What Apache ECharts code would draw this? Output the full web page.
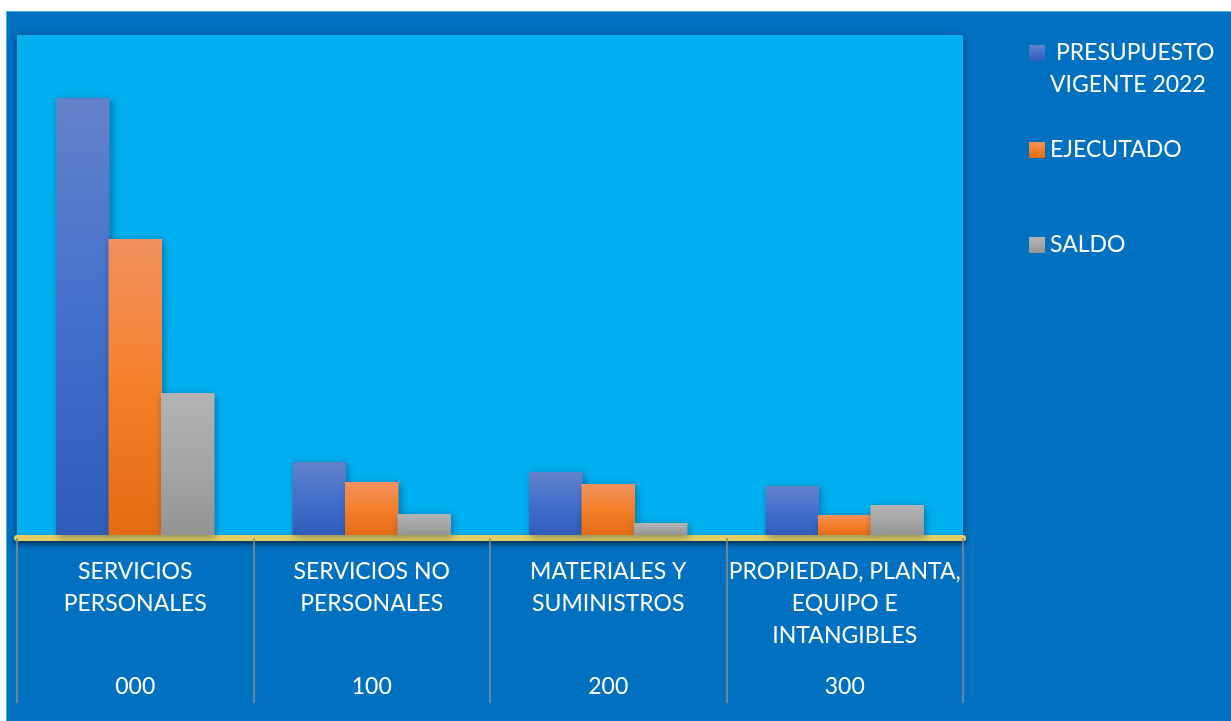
<!DOCTYPE html>
<html>
<head>
<meta charset="utf-8">
<script src="https://cdn.jsdelivr.net/npm/echarts@6/dist/echarts.min.js"></script>
<style>
  html, body { margin: 0; padding: 0; background: #ffffff; width: 1231px; height: 721px; overflow: hidden; }
  #frame { position: absolute; left: 6px; top: 11px; width: 1224px; height: 710px; background: #0070C0;
           border-top: 1px solid #4db3ee; border-left: 1px solid #4db3ee; border-right: 1px solid #4db3ee; }
  #chart { position: absolute; left: 0; top: 0; width: 1231px; height: 721px; }
</style>
</head>
<body>
<div id="frame"></div>
<div id="chart"></div>
<script>
// Category names (multi-line as in the original) and their codes
const categories = ['SERVICIOS\nPERSONALES', 'SERVICIOS NO\nPERSONALES', 'MATERIALES Y\nSUMINISTROS', 'PROPIEDAD, PLANTA,\nEQUIPO E\nINTANGIBLES'];
const codes = ['000', '100', '200', '300'];
const seriesNames = ['PRESUPUESTO VIGENTE 2022', 'EJECUTADO', 'SALDO'];
// Values (no value axis in the original; relative units)
const presupuesto = [437, 73, 63, 49];
const ejecutado = [296, 53, 51, 20];
const saldo = [142, 21, 12, 30];

const FONT = 'Lato';
const FS = 23;

function grad(top, mid, bottom) {
  return new echarts.graphic.LinearGradient(0, 0, 0, 1, [
    { offset: 0, color: top }, { offset: 0.5, color: mid }, { offset: 1, color: bottom }
  ]);
}
const colBlue = grad('#6482C9', '#4470CC', '#2E5DB9');
const colOrange = grad('#F09160', '#F5802A', '#E36B14');
const colGray = grad('#B3B3B3', '#A6A6A6', '#939393');

const barShadow = { shadowBlur: 8, shadowColor: 'rgba(0,40,80,0.45)', shadowOffsetX: 2, shadowOffsetY: 2 };

const chart = echarts.init(document.getElementById('chart'), null, { renderer: 'canvas' });
const option = {
  backgroundColor: 'transparent',
  animation: false,
  textStyle: { fontFamily: FONT },
  grid: {
    left: 17, top: 35, width: 946, bottom: 186,
    show: true, backgroundColor: '#00B0F0', borderWidth: 0,
    shadowBlur: 8, shadowColor: 'rgba(0,0,0,0.45)', shadowOffsetX: 0, shadowOffsetY: 2
  },
  legend: [
    {
      data: [seriesNames[0]], orient: 'vertical', left: 1029, top: 5, padding: 0,
      itemWidth: 16, itemHeight: 16, itemGap: 0, icon: 'rect',
      formatter: function () { return ' \n PRESUPUESTO\nVIGENTE 2022'; },
      textStyle: { color: '#ffffff', fontFamily: FONT, fontSize: FS, lineHeight: 32 },
      itemStyle: { shadowBlur: 0 }
    },
    {
      data: [seriesNames[1]], orient: 'vertical', left: 1029, top: 134, padding: 0,
      itemWidth: 16, itemHeight: 16, icon: 'rect',
      textStyle: { color: '#ffffff', fontFamily: FONT, fontSize: FS, lineHeight: 32 },
      itemStyle: { shadowBlur: 0 }
    },
    {
      data: [seriesNames[2]], orient: 'vertical', left: 1029, top: 229, padding: 0,
      itemWidth: 16, itemHeight: 16, icon: 'rect',
      textStyle: { color: '#ffffff', fontFamily: FONT, fontSize: FS, lineHeight: 32 },
      itemStyle: { shadowBlur: 0 }
    }
  ],
  xAxis: [
    {
      type: 'category', data: categories, position: 'bottom', offset: 3,
      axisLine: { show: true, onZero: false, lineStyle: { color: '#E6CF62', width: 6, shadowBlur: 5, shadowColor: 'rgba(0,0,0,0.55)', shadowOffsetY: 3 } },
      axisTick: { show: true, interval: 0, length: 165, lineStyle: { color: '#8C8C8C', width: 1.5 } },
      axisLabel: { interval: 0, color: '#ffffff', fontFamily: FONT, fontSize: FS, lineHeight: 32, margin: 18 },
      splitLine: { show: false }
    },
    {
      type: 'category', data: codes, position: 'bottom', offset: 3,
      axisLine: { show: false }, axisTick: { show: false },
      axisLabel: { interval: 0, color: '#ffffff', fontFamily: FONT, fontSize: FS, lineHeight: 32, margin: 133 },
      splitLine: { show: false }
    }
  ],
  yAxis: { type: 'value', min: 0, max: 500, show: false, splitLine: { show: false } },
  series: [
    { name: seriesNames[0], type: 'bar', data: presupuesto, barGap: '-2%', barCategoryGap: '33%',
      itemStyle: Object.assign({ color: colBlue }, barShadow) },
    { name: seriesNames[1], type: 'bar', data: ejecutado, barGap: '-2%', barCategoryGap: '33%',
      itemStyle: Object.assign({ color: colOrange }, barShadow) },
    { name: seriesNames[2], type: 'bar', data: saldo, barGap: '-2%', barCategoryGap: '33%',
      itemStyle: Object.assign({ color: colGray }, barShadow) }
  ]
};
chart.setOption(option);
</script>
</body>
</html>
